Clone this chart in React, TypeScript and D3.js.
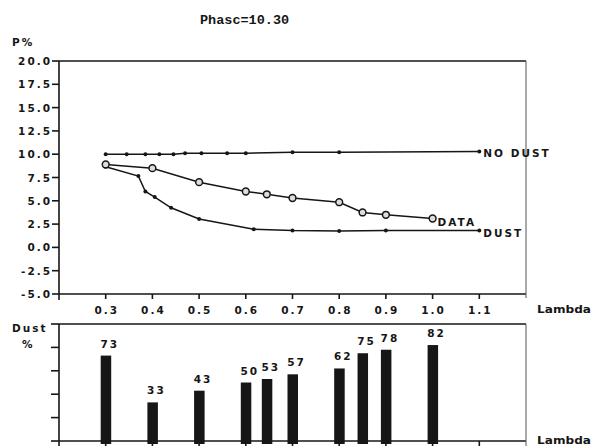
import React from "react";
import * as d3 from "d3";

const lambdaNoDust = [0.3, 0.345, 0.385, 0.415, 0.445, 0.47, 0.505, 0.56, 0.6, 0.7, 0.8, 1.1];
const pNoDust = [10.0, 10.0, 10.0, 10.0, 10.0, 10.1, 10.1, 10.1, 10.1, 10.2, 10.2, 10.3];
const lambdaData = [0.3, 0.4, 0.5, 0.6, 0.645, 0.7, 0.8, 0.85, 0.9, 1.0];
const pData = [8.9, 8.5, 7.0, 6.0, 5.7, 5.3, 4.85, 3.75, 3.5, 3.1];
const lambdaDust = [0.3, 0.37, 0.385, 0.405, 0.44, 0.5, 0.617, 0.7, 0.8, 0.9, 1.1];
const pDust = [8.65, 7.65, 6.0, 5.4, 4.25, 3.05, 1.95, 1.8, 1.75, 1.8, 1.8];
const barLambda = [0.3, 0.4, 0.5, 0.6, 0.645, 0.7, 0.8, 0.85, 0.9, 1.0];
const dustPct = [73, 33, 43, 50, 53, 57, 62, 75, 78, 82];
const pTicks = [20, 17.5, 15, 12.5, 10, 7.5, 5, 2.5, 0, -2.5, -5];
const lambdaTicks = [0.3, 0.4, 0.5, 0.6, 0.7, 0.8, 0.9, 1.0, 1.1];
const dustTicks = [0, 20, 40, 60, 80, 100];

const INK = "#161616";
const FONT = "'DejaVu Sans', sans-serif";

export default function App() {
  const x = d3.scaleLinear().domain([0.2, 1.2]).range([59, 526]);
  const y = d3.scaleLinear().domain([-5, 20]).range([294, 61]);
  const yb = d3.scaleLinear().domain([0, 100]).range([441, 324]);
  const line = d3
    .line<[number, number]>()
    .x((d) => x(d[0]))
    .y((d) => y(d[1]));
  const noDust = lambdaNoDust.map((l, i) => [l, pNoDust[i]] as [number, number]);
  const data = lambdaData.map((l, i) => [l, pData[i]] as [number, number]);
  const dust = lambdaDust.map((l, i) => [l, pDust[i]] as [number, number]);

  const txt = {
    fontFamily: FONT,
    fontWeight: 700,
    fontSize: 10.5,
    letterSpacing: 2,
    fill: INK,
  } as React.CSSProperties;
  const lamb = { ...txt, letterSpacing: 0 } as React.CSSProperties;

  const x0 = x(0.2);
  const x1 = x(1.2);

  return (
    <svg
      width={594}
      height={446}
      style={{ position: "absolute", left: 0, top: 0, background: "#fff" }}
    >
      <rect x={0} y={0} width={594} height={446} fill="#fff" />
      <text
        x={200}
        y={24}
        style={{ fontFamily: "'Liberation Mono', monospace", fontWeight: 700, fontSize: 13.5, fill: INK }}
      >
        Phasc=10.30
      </text>
      <text x={12} y={46} style={txt}>P%</text>

      {/* top chart axes */}
      <g stroke={INK} strokeWidth={1.6} fill="none">
        <line x1={x0} y1={y(20)} x2={x1} y2={y(20)} />
        <line x1={x0} y1={y(20)} x2={x0} y2={y(-5) + 6} />
        <line x1={x0} y1={y(-5)} x2={x1} y2={y(-5)} />
        {pTicks.map((t) => (
          <line key={"pt" + t} x1={x0 - 7} y1={y(t)} x2={x0} y2={y(t)} />
        ))}
        {lambdaTicks.map((t) => (
          <line key={"lt" + t} x1={x(t)} y1={y(-5)} x2={x(t)} y2={y(-5) + 5} />
        ))}
      </g>
      <line x1={x1} y1={y(20)} x2={x1} y2={y(-5) + 4} stroke="#555" strokeWidth={1} />
      {pTicks.map((t) => (
        <text
          key={"pl" + t}
          x={52}
          y={y(t)}
          dominantBaseline="central"
          textAnchor="end"
          style={txt}
        >
          {t.toFixed(1)}
        </text>
      ))}
      {lambdaTicks.map((t) => (
        <text
          key={"ll" + t}
          x={x(t) + 1}
          y={310}
          dominantBaseline="central"
          textAnchor="middle"
          style={txt}
        >
          {t.toFixed(1)}
        </text>
      ))}
      <text x={537} y={309} dominantBaseline="central" style={lamb} textLength={54} lengthAdjust="spacingAndGlyphs">Lambda</text>

      {/* series */}
      <g fill="none" stroke={INK} strokeWidth={1.5}>
        <path d={line(noDust) || ""} />
        <path d={line(data) || ""} />
        <path d={line(dust) || ""} />
      </g>
      {noDust.map((d, i) => (
        <circle key={"nd" + i} cx={x(d[0])} cy={y(d[1])} r={2} fill={INK} />
      ))}
      {dust.map((d, i) => (
        <circle key={"du" + i} cx={x(d[0])} cy={y(d[1])} r={2} fill={INK} />
      ))}
      {data.map((d, i) => (
        <circle
          key={"da" + i}
          cx={x(d[0])}
          cy={y(d[1])}
          r={3.4}
          fill="#ddd"
          stroke={INK}
          strokeWidth={1.5}
        />
      ))}
      <text x={x(1.1) + 4} y={y(10.3) + 2} dominantBaseline="central" style={txt}>NO DUST</text>
      <text x={x(1.0) + 5} y={y(3.1) + 3.5} dominantBaseline="central" style={txt}>DATA</text>
      <text x={x(1.1) + 4} y={y(1.8) + 2.5} dominantBaseline="central" style={txt}>DUST</text>

      {/* bottom chart */}
      <text x={12} y={328} dominantBaseline="central" style={txt}>Dust</text>
      <text x={22} y={344} dominantBaseline="central" style={txt}>%</text>
      <g stroke={INK} strokeWidth={1.6} fill="none">
        <line x1={x0} y1={yb(100)} x2={x1} y2={yb(100)} />
        <line x1={x0} y1={yb(100)} x2={x0} y2={yb(0) + 5} />
        <line x1={x0} y1={yb(0)} x2={x1} y2={yb(0)} />
        {dustTicks.map((t) => (
          <line key={"dt" + t} x1={x0 - 8} y1={yb(t)} x2={x0} y2={yb(t)} />
        ))}
        {lambdaTicks.map((t) => (
          <line key={"blt" + t} x1={x(t)} y1={yb(0)} x2={x(t)} y2={yb(0) + 6} />
        ))}
      </g>
      <line x1={x1} y1={yb(100)} x2={x1} y2={yb(0) + 5} stroke="#555" strokeWidth={1} />
      {barLambda.map((l, i) => (
        <rect
          key={"b" + i}
          x={x(l) - 5}
          y={yb(dustPct[i])}
          width={10.5}
          height={yb(0) + 3 - yb(dustPct[i])}
          fill={INK}
        />
      ))}
      {barLambda.map((l, i) => (
        <text
          key={"bl" + i}
          x={x(l) + 4}
          y={yb(dustPct[i]) - 12}
          dominantBaseline="central"
          textAnchor="middle"
          style={txt}
        >
          {dustPct[i]}
        </text>
      ))}
      <text x={537} y={440} dominantBaseline="central" style={lamb} textLength={54} lengthAdjust="spacingAndGlyphs">Lambda</text>
    </svg>
  );
}
